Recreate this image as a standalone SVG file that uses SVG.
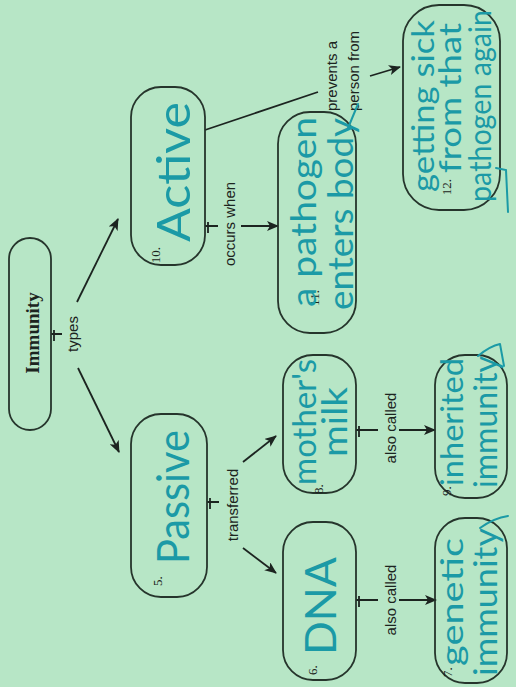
<svg xmlns="http://www.w3.org/2000/svg" width="516" height="687" viewBox="0 0 516 687">
<defs>
<marker id="arrow" viewBox="0 0 12 10" refX="11" refY="5" markerWidth="12" markerHeight="10" markerUnits="userSpaceOnUse" orient="auto">
<path d="M0,0 L12,5 L0,10 L3,5 z" fill="#1c2420"/>
</marker>
</defs>
<style>
.box{fill:none;stroke:#26352c;stroke-width:1.8}
.line{fill:none;stroke:#1c2420;stroke-width:1.8}
.arr{fill:none;stroke:#1c2420;stroke-width:1.8;marker-end:url(#arrow)}
.lbl{font-family:"Liberation Sans",sans-serif;font-size:15px;fill:#1c2420}
.num{font-family:"Liberation Serif",serif;font-size:13px;fill:#1c2420}
.hand{font-family:Lato,"Noto Sans",sans-serif;font-weight:400;fill:#1b9aa6}
.pen{fill:none;stroke:#1b9aa6;stroke-width:2;stroke-linecap:round}
</style>
<rect width="516" height="687" fill="#b7e6c6"/>

<!-- connectors: stub from box, link label, arrow to target -->
<g id="connectors">
  <path class="line" d="M51,334 H62 M54,330 V341"/>
  <text class="lbl" text-anchor="middle" dominant-baseline="central" transform="translate(72,334) rotate(-90)">types</text>
  <path class="arr" d="M77,302 L118,219"/>
  <path class="arr" d="M78,368 L119,452"/>

  <path class="line" d="M205,226 H218 M208,222 V233"/>
  <text class="lbl" text-anchor="middle" dominant-baseline="central" transform="translate(229,224) rotate(-90)">occurs when</text>
  <path class="arr" d="M241,226 H278"/>

  <path class="line" d="M205,130 L318,92"/>
  <text class="lbl" dominant-baseline="central" transform="translate(331,111) rotate(-90)">prevents a</text>
  <text class="lbl" dominant-baseline="central" transform="translate(353,111) rotate(-90)">person from</text>
  <path class="arr" d="M370,76 L400,67"/>

  <path class="line" d="M207,502 H219 M210,498 V509"/>
  <text class="lbl" text-anchor="middle" dominant-baseline="central" transform="translate(232,505) rotate(-90)">transferred</text>
  <path class="arr" d="M243,462 L276,436"/>
  <path class="arr" d="M243,548 L276,573"/>

  <path class="line" d="M356,430 H378 M359,426 V437"/>
  <text class="lbl" text-anchor="middle" dominant-baseline="central" transform="translate(390,428) rotate(-90)">also called</text>
  <path class="arr" d="M399,430 H435"/>

  <path class="line" d="M356,600 H378 M359,596 V607"/>
  <text class="lbl" text-anchor="middle" dominant-baseline="central" transform="translate(390,600) rotate(-90)">also called</text>
  <path class="arr" d="M399,600 H436"/>
</g>

<!-- Immunity -->
<g id="immunity">
  <rect class="box" x="9" y="238" width="42" height="192" rx="21"/>
  <text font-family="Liberation Serif,serif" font-weight="bold" font-size="19" fill="#1c2420" text-anchor="middle" dominant-baseline="central" transform="translate(32,333) rotate(-90)">Immunity</text>
</g>

<!-- 10. Active -->
<g id="active">
  <rect class="box" x="131" y="87" width="74" height="178" rx="30"/>
  <text class="num" text-anchor="middle" dominant-baseline="central" transform="translate(155,255) rotate(-90)">10.</text>
  <text class="hand" font-size="46" text-anchor="middle" dominant-baseline="central" textLength="140" lengthAdjust="spacingAndGlyphs" transform="translate(172,172) rotate(-90)">Active</text>
</g>

<!-- 5. Passive -->
<g id="passive">
  <rect class="box" x="131" y="414" width="76" height="183" rx="30"/>
  <text class="num" text-anchor="middle" dominant-baseline="central" transform="translate(157,581) rotate(-90)">5.</text>
  <text class="hand" font-size="44" text-anchor="middle" dominant-baseline="central" textLength="134" lengthAdjust="spacingAndGlyphs" transform="translate(172,497) rotate(-90)">Passive</text>
</g>

<!-- 11. a pathogen enters body -->
<g id="pathogen-enters">
  <rect class="box" x="278" y="112" width="78" height="221" rx="32"/>
  <text class="num" text-anchor="middle" dominant-baseline="central" transform="translate(314,298) rotate(-90)">11.</text>
  <text class="hand" font-size="34" text-anchor="middle" dominant-baseline="central" textLength="190" lengthAdjust="spacingAndGlyphs" transform="translate(302,212) rotate(-90)">a pathogen</text>
  <text class="hand" font-size="34" text-anchor="middle" dominant-baseline="central" textLength="192" lengthAdjust="spacingAndGlyphs" transform="translate(339,214) rotate(-90)">enters body</text>
  <path class="pen" d="M348,128 L358,104"/>
</g>

<!-- 12. getting sick from that pathogen again -->
<g id="getting-sick">
  <rect class="box" x="403" y="5" width="97" height="205" rx="36"/>
  <text class="num" text-anchor="middle" dominant-baseline="central" transform="translate(446,187) rotate(-90)">12.</text>
  <text class="hand" font-size="30" text-anchor="middle" dominant-baseline="central" textLength="172" lengthAdjust="spacingAndGlyphs" transform="translate(422,106) rotate(-90)">getting sick</text>
  <text class="hand" font-size="30" text-anchor="middle" dominant-baseline="central" textLength="150" lengthAdjust="spacingAndGlyphs" transform="translate(449,98) rotate(-90)">from that</text>
  <text class="hand" font-size="30" text-anchor="start" dominant-baseline="central" textLength="192" lengthAdjust="spacingAndGlyphs" transform="translate(479,202) rotate(-90)">pathogen again</text>
  <path class="pen" d="M496,168 L506,170 L508,212"/>
</g>

<!-- 8. mother's milk -->
<g id="mothers-milk">
  <rect class="box" x="283" y="355" width="73" height="138" rx="30"/>
  <text class="num" text-anchor="middle" dominant-baseline="central" transform="translate(318,489) rotate(-90)">8.</text>
  <text class="hand" font-size="32" text-anchor="middle" dominant-baseline="central" textLength="126" lengthAdjust="spacingAndGlyphs" transform="translate(303,422) rotate(-90)">mother's</text>
  <text class="hand" font-size="34" text-anchor="middle" dominant-baseline="central" textLength="70" lengthAdjust="spacingAndGlyphs" transform="translate(333,422) rotate(-90)">milk</text>
</g>

<!-- 9. inherited immunity -->
<g id="inherited-immunity">
  <rect class="box" x="435" y="355" width="72" height="143" rx="30"/>
  <text class="num" text-anchor="middle" dominant-baseline="central" transform="translate(446,491) rotate(-90)">9.</text>
  <text class="hand" font-size="30" text-anchor="middle" dominant-baseline="central" textLength="128" lengthAdjust="spacingAndGlyphs" transform="translate(451,422) rotate(-90)">inherited</text>
  <text class="hand" font-size="32" text-anchor="middle" dominant-baseline="central" textLength="132" lengthAdjust="spacingAndGlyphs" transform="translate(484,422) rotate(-90)">immunity</text>
  <path class="pen" d="M478,356 Q490,346 500,344 M500,344 L504,366"/>
</g>

<!-- 6. DNA -->
<g id="dna">
  <rect class="box" x="283" y="522" width="73" height="158" rx="30"/>
  <text class="num" text-anchor="middle" dominant-baseline="central" transform="translate(312,670) rotate(-90)">6.</text>
  <text class="hand" font-size="42" text-anchor="middle" dominant-baseline="central" textLength="98" lengthAdjust="spacingAndGlyphs" transform="translate(320,606) rotate(-90)">DNA</text>
</g>

<!-- 7. genetic immunity -->
<g id="genetic-immunity">
  <rect class="box" x="435" y="518" width="72" height="165" rx="30"/>
  <text class="num" text-anchor="middle" dominant-baseline="central" transform="translate(447,672) rotate(-90)">7.</text>
  <text class="hand" font-size="30" text-anchor="middle" dominant-baseline="central" textLength="128" lengthAdjust="spacingAndGlyphs" transform="translate(451,602) rotate(-90)">genetic</text>
  <text class="hand" font-size="32" text-anchor="middle" dominant-baseline="central" textLength="148" lengthAdjust="spacingAndGlyphs" transform="translate(484,602) rotate(-90)">immunity</text>
  <path class="pen" d="M480,528 Q494,518 508,516"/>
</g>
</svg>
